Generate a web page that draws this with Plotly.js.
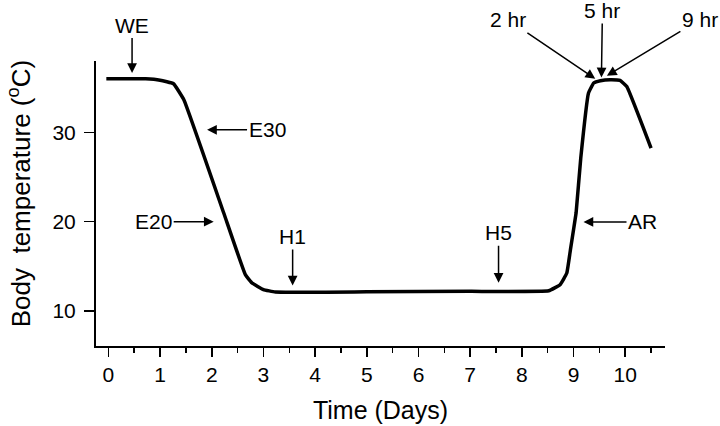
<!DOCTYPE html>
<html>
<head>
<meta charset="utf-8">
<script src="https://cdn.plot.ly/plotly-3.0.1.min.js"></script>
<style>
  html, body { margin: 0; padding: 0; background: #fff; }
  #plot { width: 720px; height: 426px; }
</style>
</head>
<body>
<div id="plot"></div>
<script>
// curve (days, deg C)
const days = [-0.04, 0.72, 1.0, 1.26, 1.46, 2.23, 2.65, 2.78, 3.0, 3.23, 5.0, 7.0, 8.52, 8.74, 8.87, 8.94, 9.0, 9.05, 9.14, 9.29, 9.39, 9.52, 9.71, 9.9, 10.03, 10.5];
const temps = [36.0, 36.0, 35.85, 35.45, 33.66, 21.0, 14.07, 13.14, 12.4, 12.13, 12.15, 12.2, 12.27, 12.95, 14.26, 16.86, 19.1, 21.0, 27.13, 34.41, 35.53, 35.79, 35.9, 35.82, 35.15, 28.25];

const xTicks = [0, 1, 2, 3, 4, 5, 6, 7, 8, 9, 10];
const yTicks = [10, 20, 30];

// arrow labels: text, where the arrow points (days, deg C), text offset in px
const markLabels = ['WE', 'E30', 'E20', 'H1', 'H5', 'AR', '2 hr', '5 hr', '9 hr'];
const markDays = [0.458, 1.909, 2.037, 3.565, 7.549, 9.193, 9.42, 9.54, 9.646];
const markTemps = [36.65, 30.3, 20.0, 12.87, 13.17, 19.97, 36.01, 36.16, 36.35];
const markDx = [0, 60, -60, 0, 0, 59, -87, 1, 93];
const markDy = [-48, 0, 0, -49, -50, 0, -59, -67, -56];

const font = 'Liberation Sans, Arial, Helvetica, sans-serif';

const trace = {
    x: days,
    y: temps,
    type: 'scatter',
    mode: 'lines',
    line: { color: '#000', width: 3.5, shape: 'spline', smoothing: 0.3 },
    hoverinfo: 'skip'
};

const annotations = markLabels.map((t, i) => ({
    x: markDays[i],
    y: markTemps[i],
    xref: 'x',
    yref: 'y',
    text: t,
    showarrow: true,
    ax: markDx[i],
    ay: markDy[i],
    arrowhead: 2,
    arrowsize: 1.3,
    arrowwidth: 1.5,
    arrowcolor: '#000',
    font: { family: font, size: 21, color: '#000' }
}));

// y title as a rotated annotation, sits a bit above the plot centre like the original
annotations.push({
    xref: 'paper',
    yref: 'paper',
    x: -0.134,
    y: 0.535,
    xanchor: 'center',
    yanchor: 'middle',
    textangle: -90,
    showarrow: false,
    text: 'Body  temperature (<sup>o</sup>C)',
    font: { family: font, size: 26, color: '#000' }
});

const layout = {
    width: 720,
    height: 426,
    margin: { l: 96, r: 55, t: 61, b: 80 },
    paper_bgcolor: '#fff',
    plot_bgcolor: '#fff',
    showlegend: false,
    font: { family: font, color: '#000' },
    xaxis: {
        range: [-0.24, 10.77],
        tickvals: xTicks,
        ticks: 'outside',
        ticklen: 9,
        tickwidth: 1.5,
        tickcolor: '#000',
        minor: { tick0: 0.5, dtick: 1, ticks: 'outside', ticklen: 5, tickwidth: 1.5, tickcolor: '#000' },
        showline: true,
        linewidth: 2,
        linecolor: '#000',
        showgrid: false,
        zeroline: false,
        tickfont: { family: font, size: 21 },
        title: { text: 'Time (Days)', font: { family: font, size: 25 }, standoff: 16 }
    },
    yaxis: {
        range: [6.08, 38.0],
        tickvals: yTicks,
        ticks: 'outside',
        ticklen: 10,
        tickwidth: 1.5,
        tickcolor: '#000',
        ticklabelstandoff: 4,
        showline: true,
        linewidth: 2,
        linecolor: '#000',
        showgrid: false,
        zeroline: false,
        tickfont: { family: font, size: 21 }
    },
    annotations: annotations
};

Plotly.newPlot('plot', [trace], layout, { staticPlot: true });
</script>
</body>
</html>
